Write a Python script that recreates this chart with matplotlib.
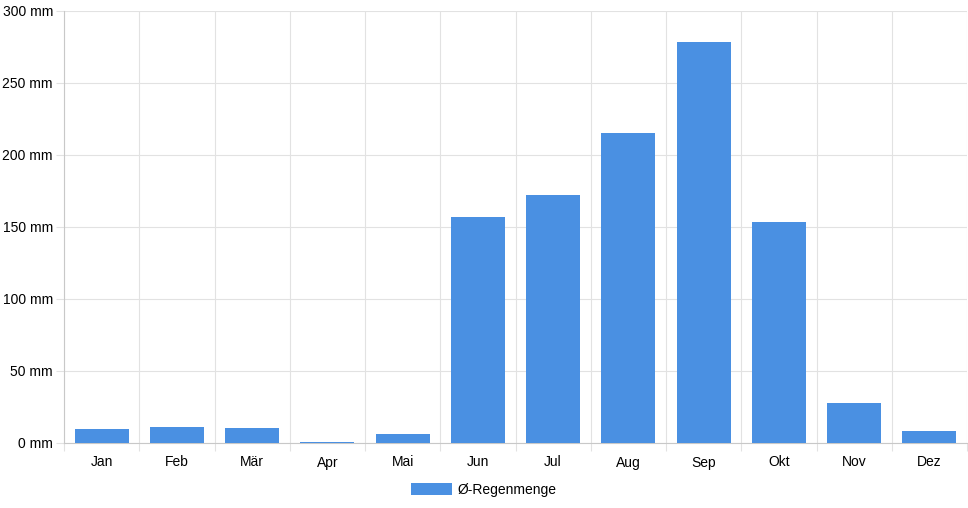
import numpy as np
import matplotlib
matplotlib.use("Agg")
import matplotlib.pyplot as plt

# monthly average rainfall (mm)
months = ["Jan", "Feb", "Mär", "Apr", "Mai", "Jun", "Jul", "Aug", "Sep", "Okt", "Nov", "Dez"]
rain = [10, 11, 10.5, 0.4, 6, 157, 172, 215, 278.5, 153.5, 28, 8]
y_ticks = [0, 50, 100, 150, 200, 250, 300]
series_name = "Ø-Regenmenge"

plt.rcParams['font.family'] = ['Liberation Sans', 'DejaVu Sans']
grid_col = "#e2e2e2"
bar_col = "#4a90e2"

fig = plt.figure(figsize=(9.68, 5.08), dpi=100)
ax = fig.add_axes([64/968, 65/508, 903/968, 432/508])

x = np.arange(len(months))
ax.bar(x, rain, width=0.72, color=bar_col, label=series_name, zorder=3)

ax.set_xlim(-0.5, len(months) - 0.5)
ax.set_ylim(0, 300)

ax.set_xticks(x)
ax.set_xticklabels(months, fontsize=10)
ax.set_xticks(np.arange(-0.5, len(months), 1), minor=True)
ax.tick_params(axis='x', which='major', length=0, pad=9)
ax.tick_params(axis='x', which='minor', length=6, color=grid_col, width=0.8)
ax.grid(axis='x', which='minor', color=grid_col, linewidth=0.8)

ax.set_yticks(y_ticks)
ax.set_yticklabels([f"{v} mm" for v in y_ticks], fontsize=10)
ax.tick_params(axis='y', length=6, color=grid_col, width=0.8, pad=2)
ax.grid(axis='y', color=grid_col, linewidth=0.8)
ax.set_axisbelow(True)

for s in ["top", "right"]:
    ax.spines[s].set_visible(False)
ax.spines["left"].set_color("#c8c8c8")
ax.spines["bottom"].set_color("#c8c8c8")
ax.spines["left"].set_linewidth(0.8)
ax.spines["bottom"].set_linewidth(0.8)

fig.legend(loc="center", bbox_to_anchor=(0.5, 18/508), ncol=1, frameon=False,
           fontsize=10, handlelength=2.9, handleheight=1.0, handletextpad=0.45)

fig.savefig("out.png", dpi=100)
